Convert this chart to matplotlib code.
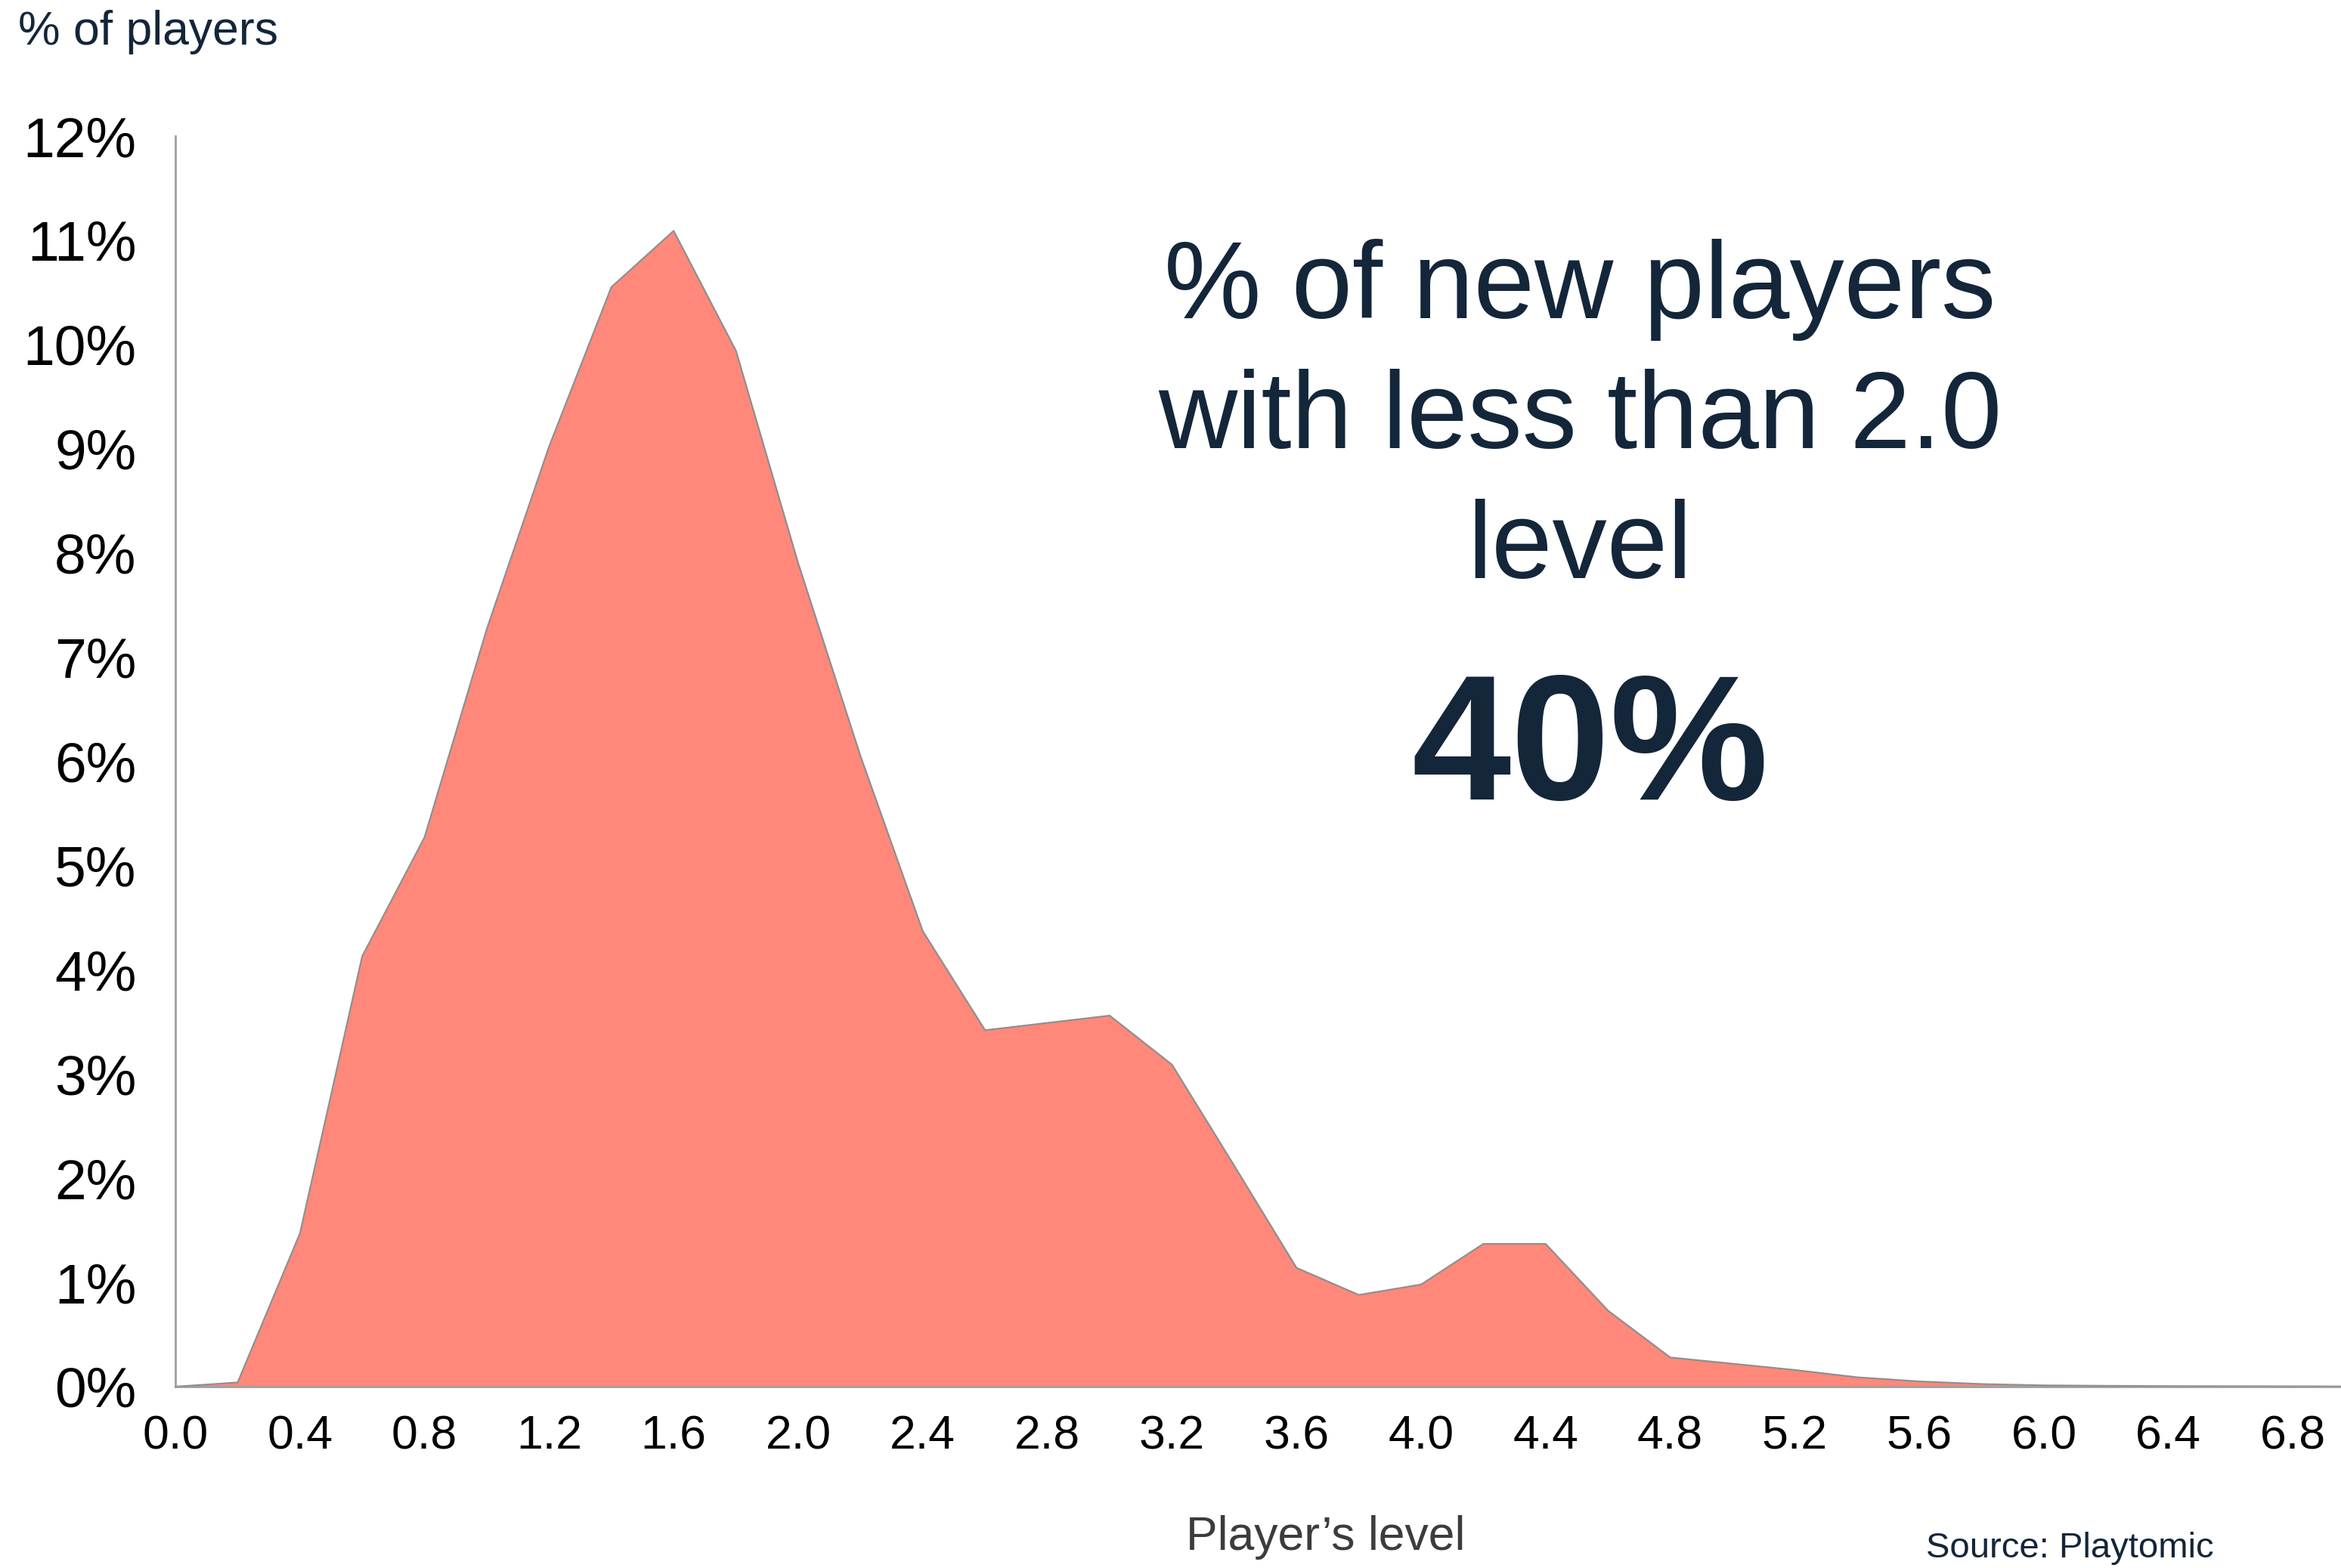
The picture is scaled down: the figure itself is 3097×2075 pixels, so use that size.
import numpy as np
import matplotlib
matplotlib.use("Agg")
import matplotlib.pyplot as plt

plt.rcParams['font.family'] = ['Liberation Sans', 'DejaVu Sans']

# player level (x) and share of new players in % (y)
levels = [0.0, 0.2, 0.4, 0.6, 0.8, 1.0, 1.2, 1.4, 1.6, 1.8, 2.0, 2.2, 2.4, 2.6, 2.8, 3.0,
          3.2, 3.4, 3.6, 3.8, 4.0, 4.2, 4.4, 4.6, 4.8, 5.0, 5.2, 5.4, 5.6, 5.8, 6.0,
          6.2, 6.4, 6.6, 6.8, 7.0]
share = [0.0, 0.04, 1.47, 4.13, 5.27, 7.27, 9.02, 10.55, 11.09, 9.94, 7.9, 6.05, 4.37,
         3.42, 3.49, 3.56, 3.09, 2.12, 1.14, 0.88, 0.98, 1.37, 1.37, 0.73, 0.28, 0.22,
         0.16, 0.09, 0.05, 0.025, 0.012, 0.008, 0.005, 0.004, 0.003, 0.002]

x_ticks = [0.0, 0.4, 0.8, 1.2, 1.6, 2.0, 2.4, 2.8, 3.2, 3.6, 4.0, 4.4, 4.8, 5.2, 5.6, 6.0, 6.4, 6.8]
y_ticks = list(range(0, 13))

W, H = 3097, 2075
fig = plt.figure(figsize=(W / 100, H / 100), dpi=100)
ax = fig.add_axes([232 / W, 1 - 1835 / H, 1 - 232 / W, (1835 - 180) / H])

ax.fill_between(levels, share, 0, color='#FF887A', linewidth=0, zorder=2)
ax.plot(levels, share, color='#8f8f8f', linewidth=1.6, zorder=3)

ax.set_xlim(0, (W - 232) / 412)
ax.set_ylim(0, 12)
ax.set_xticks(x_ticks)
ax.set_xticklabels([f"{v:.1f}" for v in x_ticks])
ax.set_yticks(y_ticks)
ax.set_yticklabels([f"{v}%" for v in y_ticks])
ax.tick_params(axis='x', length=0, pad=26, labelsize=45, labelcolor='black')
ax.tick_params(axis='y', length=0, pad=37, labelsize=54, labelcolor='black')

for s in ['top', 'right']:
    ax.spines[s].set_visible(False)
for s in ['left', 'bottom']:
    ax.spines[s].set_color('#a0a0a0')
    ax.spines[s].set_linewidth(2)

navy = '#13263A'
fig.text(24 / W, 1 - 43 / H, "% of players", fontsize=45, color=navy, ha='left', va='center')
fig.text(1754 / W, 1 - 2034 / H, "Player\u2019s level", fontsize=45, color='#3c3c3c',
         ha='center', va='center')
fig.text(2548 / W, 1 - 2071 / H, "Source: Playtomic", fontsize=34, color=navy,
         ha='left', va='bottom')

lines = ["% of new players", "with less than 2.0", "level"]
baselines = [421, 593, 765]
for txt, yb in zip(lines, baselines):
    fig.text(2090 / W, 1 - yb / H, txt, fontsize=104, color=navy, ha='center', va='baseline')
fig.text(2104 / W, 1 - 1058 / H, "40%", fontsize=170, fontweight='bold', color=navy,
         ha='center', va='baseline')

fig.savefig("out.png", dpi=100, facecolor='white')
